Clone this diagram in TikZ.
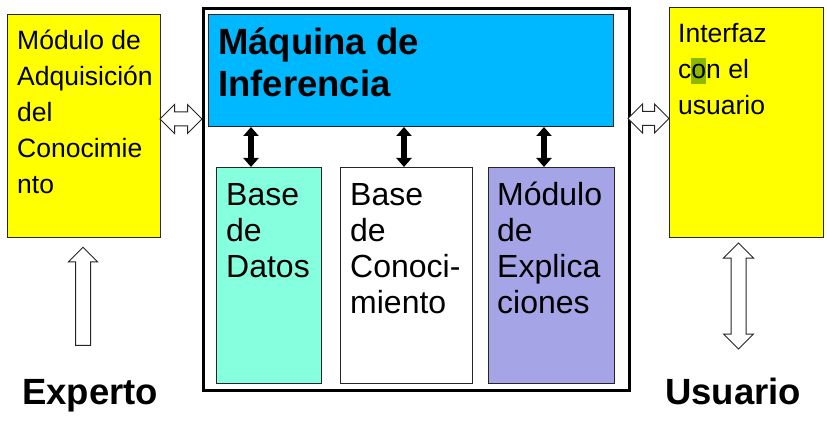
\documentclass[tikz,border=0pt]{standalone}
\usepackage{fontspec}
\setmainfont{Liberation Sans}
\usepackage{tikz}
\usetikzlibrary{arrows.meta, positioning, shapes.arrows}
\definecolor{amarillo}{HTML}{FFFF00}
\definecolor{celeste}{HTML}{00B8FF}
\definecolor{aguamarina}{HTML}{86FFDE}
\definecolor{lila}{HTML}{A4A4E6}
\definecolor{resalte}{HTML}{8CB800}

\begin{document}
\begin{tikzpicture}[
    x=1pt, y=-1pt,
    box/.style={draw=black!85, line width=1pt, anchor=north west, inner sep=0pt},
    txt/.style={anchor=base west, align=left, inner sep=0pt, font=\fontsize{26.5}{36}\selectfont},
    txtgrande/.style={txt, font=\fontsize{32}{36}\selectfont},
    titulo/.style={txt, font=\bfseries\fontsize{36.5}{42}\selectfont},
    hueca/.style={double arrow, draw=black!85, fill=white, line width=1pt, inner xsep=0pt},
    flecha/.style={{Triangle[width=15pt,length=9pt]}-{Triangle[width=15pt,length=9pt]}, line width=6pt}
]
\useasboundingbox (0,0) rectangle (827,422);
\node[box, fill=amarillo, minimum width=153pt, minimum height=223pt] (adq) at (7,14) {};
\node[box, draw=black, line width=3pt, minimum width=426pt, minimum height=382pt] (marco) at (202,7) {};
\node[box, fill=celeste, minimum width=405pt, minimum height=112pt] (maq) at (208,14) {};
\node[box, fill=aguamarina, minimum width=105pt, minimum height=216pt] (bd) at (216,167) {};
\node[box, fill=white, minimum width=132pt, minimum height=216pt] (bc) at (340,167) {};
\node[box, fill=lila, minimum width=126pt, minimum height=216pt] (me) at (488,167) {};
\node[box, fill=amarillo, minimum width=154pt, minimum height=230pt] (ifz) at (669,7) {};

% base = baseline of the last line
\node[txt] (tadq) at (17,194) {Módulo de\\Adquisición\\del\\Conocimie\\nto};
\node[titulo] (tmaq) at (218,97) {Máquina de\\Inferencia};
\node[txtgrande] (tbd) at (226,277) {Base\\de\\Datos};
\node[txtgrande] (tbc) at (350,313) {Base\\de\\Conoci-\\miento};
\node[txtgrande] (tme) at (497,313) {Módulo\\de\\Explica\\ciones};
\node[txt] (tifz) at (678,115) {Interfaz\\c{\fboxsep=0pt\colorbox{resalte}{\rule[-5pt]{0pt}{26pt}o}}n el\\usuario};

\node[titulo] (experto) at (22,404) {Experto};
\node[titulo] (usuario) at (665,404) {Usuario};

\draw[flecha] (maq.south -| 251,0) -- (bd.north -| 251,0);
\draw[flecha] (maq.south -| 404,0) -- (bc.north -| 404,0);
\draw[flecha] (maq.south -| 544,0) -- (me.north -| 544,0);

\node[hueca, inner ysep=6.5pt, double arrow head extend=7.5pt, minimum height=42pt] (izq) at (181,119) {};
\node[hueca, inner ysep=6.5pt, double arrow head extend=7.5pt, minimum height=41pt] (der) at (648.5,118.5) {};
\node[hueca, single arrow, single arrow head extend=7pt, inner ysep=7pt, minimum height=98pt, rotate=90] (subida) at (83,300) {};
\node[hueca, inner ysep=7pt, double arrow head extend=7.5pt, minimum height=106pt, rotate=90] (vaiven) at (738.5,296) {};
\end{tikzpicture}
\end{document}
